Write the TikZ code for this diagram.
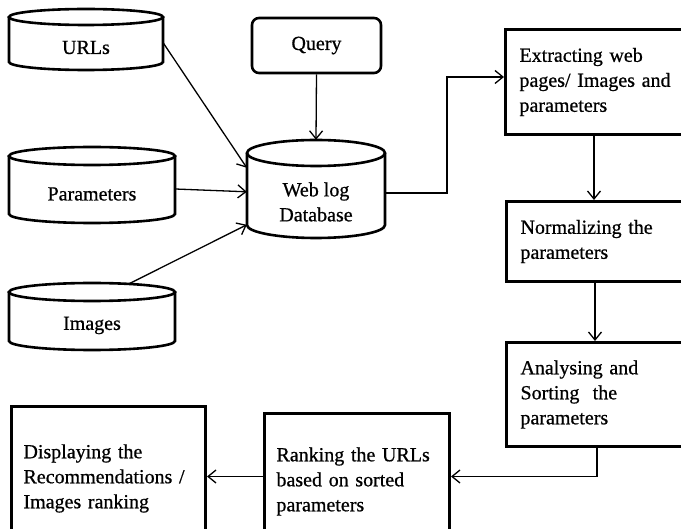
\documentclass[tikz,border=0pt]{standalone}
\usepackage{fontspec}
\setmainfont{Liberation Serif}
\newfontfamily\diagfont{Liberation Serif}[FakeBold=0.7]
\usetikzlibrary{arrows.meta,calc}
\newcommand\dbcyl[5]{%
  \draw[cyl] ({(#1+#2)/2},{#3+#5}) ellipse [x radius={(#2-#1)/2}, y radius=#5];
  \draw[cyl] (#1,{#3+#5}) -- (#1,{#4-#5})
     .. controls (#1,{#4-0.448*#5}) and ({#1+0.448*(#2-#1)/2},#4) .. ({(#1+#2)/2},#4)
     .. controls ({#2-0.448*(#2-#1)/2},#4) and (#2,{#4-0.448*#5}) .. (#2,{#4-#5})
     -- (#2,{#3+#5});
}
\begin{document}
\begin{tikzpicture}[x=1pt,y=-1pt,
  every node/.style={font=\diagfont\fontsize{20}{25}\selectfont},
  cyl/.style={line width=2.6pt},
  dbtext/.style={draw=none,inner sep=0pt,align=center},
  stepbox/.style={draw,line width=3pt,align=left,anchor=north west,inner ysep=0pt},
  querybox/.style={draw,line width=2.6pt,rounded corners=7pt,minimum width=129pt,minimum height=55pt,inner sep=0pt},
  conn/.style={line width=1.3pt,-{Straight Barb[length=8pt,width=13pt,line width=1.3pt]}},
  link/.style={line width=1.3pt}]
\useasboundingbox (0,0) rectangle (681,529);
\clip (0,0) rectangle (681,529);

% cylinders
\dbcyl{9}{163}{9}{70}{8}
\node[dbtext,minimum width=154pt,minimum height=45pt] (urls) at (86,47.5) {URLs};
\dbcyl{9}{175}{147}{223}{9}
\node[dbtext,minimum width=166pt,minimum height=58pt] (params) at (92,194) {Parameters};
\dbcyl{9}{175}{283}{350}{9}
\node[dbtext,minimum width=166pt,minimum height=49pt] (images) at (92,325.5) {Images};
\dbcyl{247}{385}{140}{238}{13}
\node[dbtext,minimum width=138pt,minimum height=72pt] (web) at (316,202) {Web log\\Database};

% query
\node[querybox] (query) at (316.5,45.5) {Query};

% process boxes
\node[stepbox,text width=168pt,inner xsep=14pt,minimum height=105pt] (extract) at (504,28)
  {Extracting web\\pages/ Images and\\parameters};
\node[stepbox,text width=168pt,inner xsep=14pt,minimum height=80pt] (norm) at (505,200)
  {Normalizing the\\parameters};
\node[stepbox,text width=168pt,inner xsep=14pt,minimum height=104pt] (analyse) at (505,341)
  {Analysing and\\Sorting~ the\\parameters};
\node[stepbox,text width=161pt,inner xsep=12pt,minimum height=136pt] (rank) at (263,412)
  {Ranking the URLs\\based on sorted\\parameters};
\node[stepbox,text width=170pt,inner xsep=12pt,minimum height=144pt] (disp) at (10,405)
  {Displaying the\\Recommendations /\\Images ranking};

% connectors
\draw[conn] ($(urls.north east)+(0,18)$) -- ($(web.north west)+(0,2)$);
\draw[conn] ($(params.east)+(0,-5)$) -- ($(web.north west)+(0,26)$);
\draw[conn] ($(images.north)+(37,-17)$) -- ($(web.north west)+(0,59)$);
\draw[conn] (query.south) -- ($(web.north)+(0,-26)$);
\draw[conn] ($(web.east)+(0,-9)$) -| ($(extract.west)+(-57,-5)$) -- ($(extract.west)+(0,-5)$);
\draw[conn] ($(extract.south west)+(90,0)$) -- ($(norm.north west)+(89,0)$);
\draw[conn] ($(norm.south west)+(90,0)$) -- ($(analyse.north west)+(90,0)$);
\coordinate (rj) at ($(rank.east)+(0,-5)$);
\coordinate (aj) at ($(analyse.south west)+(92,0)$);
\draw[conn] (aj) |- (rj);
\coordinate (dj) at ($(rank.west)+(0,-5)$);
\draw[conn] (dj) -- (dj -| disp.east);
\end{tikzpicture}
\end{document}
